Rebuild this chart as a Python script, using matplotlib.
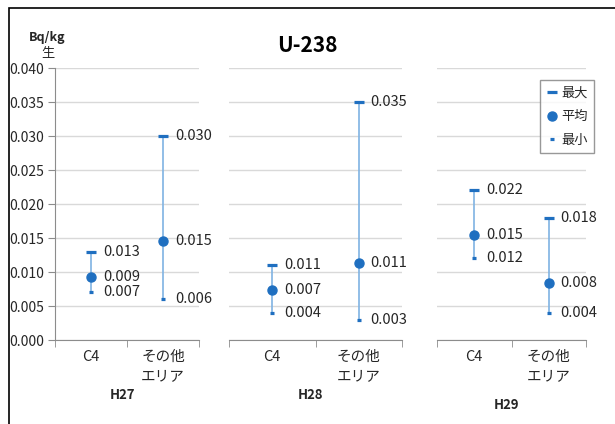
import matplotlib
matplotlib.use('Agg')
import matplotlib.pyplot as plt
from matplotlib.lines import Line2D
from matplotlib.patches import Rectangle

plt.rcParams['font.family'] = ['Noto Sans CJK JP', 'DejaVu Sans']

# data
years = ["H27", "H28", "H29"]
areas = ["C4", "その他\nエリア"]
max_vals = [[0.013, 0.030], [0.011, 0.035], [0.022, 0.018]]
mean_vals = [[0.0093, 0.0146], [0.0074, 0.0113], [0.0154, 0.0084]]
min_vals = [[0.007, 0.006], [0.004, 0.003], [0.012, 0.004]]
yticks = [0.000, 0.005, 0.010, 0.015, 0.020, 0.025, 0.030, 0.035, 0.040]

W, H = 615, 424
fig = plt.figure(figsize=(W / 100, H / 100), dpi=100)

# black frame around the chart (open at right and bottom)
fig.patches.append(Rectangle((9 / W, -0.1), 1.2, 1 - 8 / H + 0.1, transform=fig.transFigure,
                             fill=False, edgecolor='black', linewidth=1.2))

blue = '#1F6FC0'
line_blue = '#7FB3E3'
grid_c = '#D9D9D9'
axis_c = '#8C8C8C'
txt_c = '#262626'

# panel pixel extents (left, right)
panels = [(55, 199), (229, 402), (437, 586)]
top_px, bot_px = 68, 340
year_y = [395, 395, 405]

for i, (x0, x1) in enumerate(panels):
    ax = fig.add_axes([x0 / W, (H - bot_px) / H, (x1 - x0) / W, (bot_px - top_px) / H])
    ax.set_xlim(-0.5, 1.5)
    ax.set_ylim(0, 0.040)
    ax.set_yticks(yticks)
    ax.grid(axis='y', color=grid_c, linewidth=1.0)
    ax.set_axisbelow(True)
    for s in ['top', 'right']:
        ax.spines[s].set_visible(False)
    ax.spines['bottom'].set_color(axis_c)
    ax.spines['left'].set_color(axis_c)
    ax.set_xticks([0, 1])
    ax.set_xticklabels(areas, fontsize=10.5, color=txt_c, linespacing=1.5, va='top')
    ax.set_xticks([-0.5, 0.5, 1.5], minor=True)
    ax.tick_params(axis='x', which='major', length=0, pad=7)
    ax.tick_params(axis='x', which='minor', length=5, color=axis_c)
    if i == 0:
        ax.set_yticklabels([f"{v:.3f}" for v in yticks], fontsize=10, color=txt_c)
        ax.tick_params(axis='y', length=5, color=axis_c, pad=3)
    else:
        ax.spines['left'].set_visible(False)
        ax.tick_params(axis='y', length=0, labelleft=False)

    for j in range(2):
        ax.plot([j, j], [min_vals[i][j], max_vals[i][j]], color=line_blue, linewidth=1.2, zorder=2)
        ax.plot(j, max_vals[i][j], marker='_', markersize=6.5, markeredgewidth=2.3, color=blue, zorder=3)
        ax.plot(j, min_vals[i][j], marker='_', markersize=3.5, markeredgewidth=2.3, color=blue, zorder=3)
        ax.plot(j, mean_vals[i][j], marker='o', markersize=6.5, color=blue, zorder=3)
        for v in (max_vals[i][j], mean_vals[i][j], min_vals[i][j]):
            ax.annotate(f"{v:.3f}", (j, v), xytext=(8.5, 0), textcoords='offset points',
                        ha='left', va='center', fontsize=10.5, color=txt_c)

    fig.text((x0 + x1) / 2 / W - 0.008, 1 - year_y[i] / H, years[i], ha='center', va='center',
             fontsize=9.5, fontweight='bold', color=txt_c)

fig.text(307 / W, 1 - 45 / H, "U-238", ha='center', va='center', fontsize=15, fontweight='bold')
fig.text(47 / W, 1 - 37 / H, "Bq/kg", ha='center', va='center', fontsize=9, fontweight='bold', color=txt_c)
fig.text(48 / W, 1 - 54 / H, "生", ha='center', va='center', fontsize=9.5, color=txt_c)

handles = [
    Line2D([], [], linestyle='none', marker='_', markersize=6.5, markeredgewidth=2.3, color=blue),
    Line2D([], [], linestyle='none', marker='o', markersize=6.5, color=blue),
    Line2D([], [], linestyle='none', marker='_', markersize=3.5, markeredgewidth=2.3, color=blue),
]
leg = fig.legend(handles, ["最大", "平均", "最小"], loc='upper left',
                 bbox_to_anchor=(540 / W, 1 - 80 / H), fontsize=9.5, frameon=True, fancybox=False,
                 handlelength=0.8, handletextpad=0.3, borderpad=0.5, labelspacing=0.8,
                 borderaxespad=0)
leg.get_frame().set_edgecolor('#7F7F7F')
leg.get_frame().set_linewidth(1.0)
for t in leg.get_texts():
    t.set_color(txt_c)

fig.savefig("out.png", dpi=100)
